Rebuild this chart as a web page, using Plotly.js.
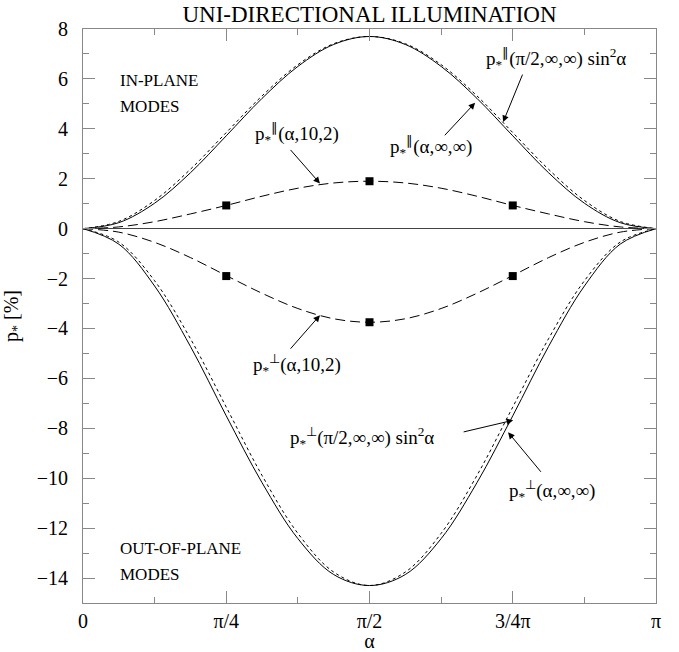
<!DOCTYPE html>
<html>
<head>
<meta charset="utf-8">
<script src="https://cdn.plot.ly/plotly-3.0.1.min.js"></script>
<style>html,body{margin:0;padding:0;background:#fff;}#chart{width:679px;height:652px;}</style>
</head>
<body>
<div id="chart"></div>
<script>
// alpha in units of pi
const alphaOverPi = [0, 0.0625, 0.125, 0.1875, 0.25, 0.3125, 0.375, 0.4375, 0.5, 0.5625, 0.625, 0.6875, 0.75, 0.8125, 0.875, 0.9375, 1];

// in-plane modes
const parInfInf   = [0, 0.24, 1.02, 2.24, 3.72, 5.22, 6.50, 7.38, 7.70, 7.38, 6.50, 5.22, 3.72, 2.24, 1.02, 0.24, 0];
const parSin2     = [0, 0.29, 1.13, 2.38, 3.85, 5.32, 6.57, 7.41, 7.70, 7.41, 6.57, 5.32, 3.85, 2.38, 1.13, 0.29, 0];
const par10_2     = [0, 0.07, 0.28, 0.59, 0.93, 1.30, 1.62, 1.83, 1.90, 1.83, 1.62, 1.30, 0.93, 0.59, 0.28, 0.07, 0];

// out-of-plane modes
const perpInfInf  = [0, -0.62, -2.30, -4.72, -7.50, -10.18, -12.42, -13.86, -14.30, -13.86, -12.42, -10.18, -7.50, -4.72, -2.30, -0.62, 0];
const perpSin2    = [0, -0.54, -2.09, -4.41, -7.15, -9.89, -12.21, -13.76, -14.30, -13.76, -12.21, -9.89, -7.15, -4.41, -2.09, -0.54, 0];
const perp10_2    = [0, -0.14, -0.55, -1.16, -1.88, -2.59, -3.20, -3.61, -3.75, -3.61, -3.20, -2.59, -1.88, -1.16, -0.55, -0.14, 0];

// computed points (squares)
const markAlpha   = [0.25, 0.5, 0.75];
const markPar     = [0.93, 1.90, 0.93];
const markPerp    = [-1.90, -3.75, -1.90];

// axis ticks
const xTickVals   = [0, 0.25, 0.5, 0.75, 1];
const xTickText   = ['0', 'π/4', 'π/2', '3/4π', 'π'];

const FONT = 'Liberation Serif';

function line(y, dash) {
  return {x: alphaOverPi, y: y, mode: 'lines', type: 'scatter',
          line: {color: '#000', width: 1, dash: dash, shape: 'spline', smoothing: 1},
          hoverinfo: 'skip', showlegend: false};
}

const traces = [
  line(parSin2, 'dot'),
  line(parInfInf, 'solid'),
  line(par10_2, '10px,5px'),
  line(perpSin2, 'dot'),
  line(perpInfInf, 'solid'),
  line(perp10_2, '10px,5px'),
  {x: markAlpha, y: markPar, mode: 'markers', type: 'scatter',
   marker: {symbol: 'square', size: 8, color: '#000'}, showlegend: false},
  {x: markAlpha, y: markPerp, mode: 'markers', type: 'scatter',
   marker: {symbol: 'square', size: 8, color: '#000'}, showlegend: false}
];

function label(x, y, text, size, anchor) {
  return {x: x, y: y, xref: 'x', yref: 'y', text: text, showarrow: false,
          xanchor: anchor || 'center', yanchor: 'middle',
          font: {family: FONT, size: size || 19, color: '#000'}};
}
function arrow(x, y, ax, ay) {
  return {x: x, y: y, xref: 'x', yref: 'y', text: '', showarrow: true,
          ax: ax, ay: ay, arrowhead: 2, arrowsize: 1.3, arrowwidth: 1, arrowcolor: '#000',
          standoff: 0, startstandoff: 0};
}

const PAR = 'p<sub>*</sub><sup>∥</sup>';
const PERP = 'p<sub>*</sub><sup>⊥</sup>';

const annotations = [
  label(0.8259, 6.836, PAR + '(π/2,∞,∞) sin<sup>2</sup>α'),
  label(0.6074, 3.308, PAR + '(α,∞,∞)'),
  label(0.3742, 3.829, PAR + '(α,10,2)'),
  label(0.3742, -5.433, PERP + '(α,10,2)'),
  label(0.4869, -8.36, PERP + '(π/2,∞,∞) sin<sup>2</sup>α'),
  label(0.818, -10.485, PERP + '(α,∞,∞)'),
  label(0.0606, 5.95, 'IN-PLANE', 17, 'left'),
  label(0.0606, 4.91, 'MODES', 17, 'left'),
  label(0.0606, -12.81, 'OUT-OF-PLANE', 17, 'left'),
  label(0.0606, -13.85, 'MODES', 17, 'left'),
  arrow(0.7332, 4.270, 20, -49),
  arrow(0.6843, 5.044, -31.7, 34),
  arrow(0.4135, 1.812, -30.7, -35),
  arrow(0.4135, -3.468, -30.7, 35),
  arrow(0.7507, -7.678, -51, 12),
  arrow(0.7419, -8.16, 34, 41)
];

const axisCommon = {
  showline: true, linecolor: '#888', linewidth: 1, mirror: 'ticks',
  ticks: 'inside', ticklen: 12, tickcolor: '#888', tickwidth: 1,
  showgrid: false, tickfont: {family: FONT, size: 20, color: '#000'}
};

const layout = {
  width: 679, height: 652,
  margin: {l: 83.3, r: 23.3, t: 29, b: 49.3, pad: 0},
  paper_bgcolor: '#fff', plot_bgcolor: '#fff',
  font: {family: FONT, color: '#000'},
  title: {text: 'UNI-DIRECTIONAL ILLUMINATION', font: {family: FONT, size: 23, color: '#000'},
          x: 0.5, xref: 'paper', y: 1 - 13.5 / 652, yref: 'container', yanchor: 'middle'},
  xaxis: Object.assign({}, axisCommon, {
    range: [0, 1], tickmode: 'array', tickvals: xTickVals, ticktext: xTickText,
    zeroline: false, ticklabelstandoff: 0,
    minor: {dtick: 0.125, tick0: 0, ticks: 'inside', ticklen: 6, tickcolor: '#888', tickwidth: 1},
    title: {text: 'α', font: {family: FONT, size: 20, color: '#000'}, standoff: 4}
  }),
  yaxis: Object.assign({}, axisCommon, {
    range: [-15, 8], dtick: 2, tick0: 0, tickmode: 'linear',
    zeroline: true, zerolinecolor: '#444', zerolinewidth: 1, ticklabelstandoff: 10,
    minor: {dtick: 1, tick0: 0, ticks: 'inside', ticklen: 6, tickcolor: '#888', tickwidth: 1},
    title: {text: 'p<sub>*</sub> [%]', font: {family: FONT, size: 20, color: '#000'}, standoff: 12}
  }),
  annotations: annotations,
  showlegend: false
};

Plotly.newPlot('chart', traces, layout, {displayModeBar: false, staticPlot: true});
</script>
</body>
</html>
